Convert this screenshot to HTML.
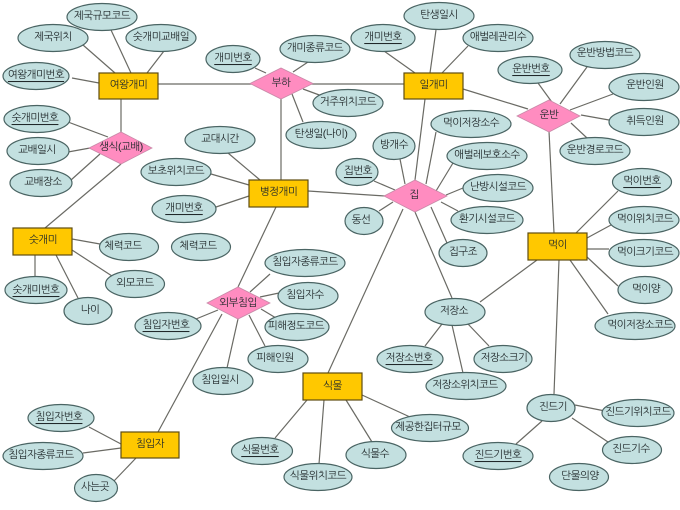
<!DOCTYPE html>
<html><head><meta charset="utf-8">
<style>
html,body{margin:0;padding:0;background:#fff;width:680px;height:510px;overflow:hidden}
svg{display:block;filter:blur(.3px)}
.l line{stroke:#6a6a64;stroke-width:1.2}
.a{fill:#c3e0e0;stroke:#4a6463;stroke-width:1.2}
.b{fill:#ffc800;stroke:#5f4c10;stroke-width:1.2}
.d{fill:#ff8cc0;stroke:#c98aa8;stroke-width:.8}
text{font-family:"Liberation Sans","NanumGothic","Noto Sans CJK KR",sans-serif;font-size:10.5px;letter-spacing:-.5px;fill:#20282a;text-anchor:middle;dominant-baseline:central}
.u{text-decoration:underline;text-decoration-thickness:1px;text-underline-offset:1px}
</style></head><body>
<svg width="680" height="510" viewBox="0 0 680 510" xmlns="http://www.w3.org/2000/svg">
<g class="l">
<line x1="111" y1="30" x2="131" y2="73"/><line x1="83" y1="45" x2="115" y2="73"/><line x1="164" y1="51" x2="147" y2="73"/><line x1="72" y1="78" x2="99" y2="83"/>
<line x1="158" y1="84" x2="404" y2="84"/><line x1="255" y1="68" x2="266" y2="73"/><line x1="308" y1="62" x2="293" y2="72"/><line x1="303" y1="89" x2="322" y2="96"/><line x1="292" y1="94" x2="303" y2="122"/>
<line x1="281" y1="99" x2="281" y2="180"/><line x1="121" y1="99" x2="121" y2="132"/><line x1="68" y1="122" x2="108" y2="137"/><line x1="68" y1="152" x2="90" y2="148"/><line x1="71" y1="180" x2="100" y2="154"/><line x1="121" y1="164" x2="45" y2="228"/>
<line x1="228" y1="153" x2="260" y2="180"/><line x1="211" y1="174" x2="249" y2="185"/><line x1="216" y1="207" x2="249" y2="196"/><line x1="308" y1="191" x2="385" y2="196"/><line x1="276" y1="207" x2="238" y2="287"/>
<line x1="72" y1="239" x2="100" y2="244"/><line x1="72" y1="250" x2="112" y2="276"/><line x1="35" y1="255" x2="35" y2="277"/><line x1="56" y1="255" x2="78" y2="298"/>
<line x1="270" y1="274" x2="250" y2="292"/><line x1="279" y1="293" x2="260" y2="297"/><line x1="261" y1="309" x2="276" y2="318"/><line x1="249" y1="315" x2="265" y2="346"/><line x1="238" y1="319" x2="227" y2="368"/><line x1="218" y1="310" x2="196" y2="319"/><line x1="222" y1="314" x2="158" y2="432"/>
<line x1="89" y1="427" x2="121" y2="444"/><line x1="83" y1="453" x2="121" y2="448"/><line x1="136" y1="458" x2="114" y2="481"/>
<line x1="425" y1="99" x2="415" y2="180"/><line x1="384" y1="51" x2="415" y2="73"/><line x1="436" y1="30" x2="430" y2="73"/><line x1="468" y1="46" x2="442" y2="73"/>
<line x1="463" y1="89" x2="528" y2="109"/><line x1="538" y1="83" x2="554" y2="105"/><line x1="587" y1="67" x2="560" y2="104"/><line x1="613" y1="94" x2="570" y2="110"/><line x1="581" y1="115" x2="609" y2="120"/><line x1="571" y1="123" x2="587" y2="138"/><line x1="549" y1="131" x2="554" y2="233"/>
<line x1="436" y1="132" x2="426" y2="184"/><line x1="400" y1="159" x2="405" y2="184"/><line x1="374" y1="181" x2="395" y2="190"/><line x1="453" y1="163" x2="436" y2="191"/><line x1="463" y1="188" x2="446" y2="195"/><line x1="458" y1="211" x2="441" y2="202"/><line x1="379" y1="211" x2="393" y2="202"/>
<line x1="431" y1="207" x2="447" y2="243"/><line x1="415" y1="212" x2="452" y2="298"/><line x1="403" y1="209" x2="328" y2="373"/>
<line x1="618" y1="191" x2="576" y2="233"/><line x1="611" y1="225" x2="587" y2="238"/><line x1="587" y1="249" x2="609" y2="249"/><line x1="587" y1="257" x2="618" y2="286"/><line x1="570" y1="260" x2="608" y2="314"/><line x1="537" y1="260" x2="480" y2="302"/><line x1="559" y1="260" x2="554" y2="394"/>
<line x1="442" y1="324" x2="425" y2="346"/><line x1="468" y1="324" x2="489" y2="346"/><line x1="452" y1="325" x2="463" y2="373"/>
<line x1="575" y1="405" x2="605" y2="411"/><line x1="572" y1="418" x2="608" y2="442"/><line x1="542" y1="421" x2="516" y2="444"/>
<line x1="362" y1="395" x2="410" y2="417"/><line x1="346" y1="400" x2="372" y2="442"/><line x1="324" y1="400" x2="319" y2="464"/><line x1="307" y1="400" x2="275" y2="438"/>
</g>

<rect class="b" x="99" y="73" width="59" height="26"/><text x="128.5" y="85">여왕개미</text>
<rect class="b" x="404" y="73" width="59" height="26"/><text x="433.5" y="85">일개미</text>
<rect class="b" x="249" y="180" width="59" height="27"/><text x="278.5" y="192">병정개미</text>
<rect class="b" x="13" y="228" width="59" height="27"/><text x="43" y="240">숫개미</text>
<rect class="b" x="528" y="233" width="59" height="27"/><text x="557.5" y="245">먹이</text>
<rect class="b" x="121" y="432" width="58" height="26"/><text x="150" y="444">침입자</text>
<rect class="b" x="303" y="373" width="59" height="27"/><text x="332.5" y="386">식물</text>

<polygon class="d" points="250,83.5 281,68 313,83.5 281,99"/><text x="281" y="83">부하</text>
<polygon class="d" points="89,148 121,132 152,148 121,164"/><text x="121" y="147">생식(교배)</text>
<polygon class="d" points="384,196 415,180 447,196 415,212"/><text x="414" y="195">집</text>
<polygon class="d" points="517,116 549,100 580,116 549,132"/><text x="549" y="115">운반</text>
<polygon class="d" points="207,303 238,287 270,303 238,319"/><text x="238" y="303">외부침입</text>

<ellipse class="a" cx="102" cy="17" rx="35" ry="13.5"/><text x="102" y="16">제국규모코드</text>
<ellipse class="a" cx="53" cy="38" rx="35" ry="13.5"/><text x="53" y="37">제국위치</text>
<ellipse class="a" cx="161" cy="38" rx="35" ry="13.5"/><text x="161" y="37">숫개미교배일</text>
<ellipse class="a" cx="36" cy="76" rx="33" ry="13.5"/><text x="36" y="75" class="u">여왕개미번호</text>
<ellipse class="a" cx="233" cy="59" rx="27" ry="13.5"/><text x="233" y="58" class="u">개미번호</text>
<ellipse class="a" cx="315" cy="49" rx="35" ry="13.5"/><text x="315" y="48">개미종류코드</text>
<ellipse class="a" cx="348" cy="103" rx="35" ry="13.5"/><text x="348" y="102">거주위치코드</text>
<ellipse class="a" cx="321" cy="135" rx="35" ry="13.5"/><text x="321" y="134">탄생일(나이)</text>
<ellipse class="a" cx="37" cy="119" rx="33" ry="13.5"/><text x="35" y="118" class="u">숫개미번호</text>
<ellipse class="a" cx="38" cy="151" rx="31" ry="13.5"/><text x="37" y="150">교배일시</text>
<ellipse class="a" cx="41" cy="183" rx="31" ry="13.5"/><text x="43" y="182">교배장소</text>
<ellipse class="a" cx="220" cy="140" rx="35" ry="13.5"/><text x="220" y="139">교대시간</text>
<ellipse class="a" cx="176" cy="172" rx="35" ry="13.5"/><text x="176" y="171">보초위치코드</text>
<ellipse class="a" cx="184" cy="209" rx="32" ry="13.5"/><text x="184" y="208" class="u">개미번호</text>
<ellipse class="a" cx="129" cy="247" rx="29.5" ry="13.5"/><text x="123" y="246">체력코드</text>
<ellipse class="a" cx="201" cy="247" rx="29.5" ry="13.5"/><text x="198" y="246">체력코드</text>
<ellipse class="a" cx="135" cy="284" rx="29.5" ry="13.5"/><text x="135" y="283">외모코드</text>
<ellipse class="a" cx="36" cy="290" rx="31" ry="13.5"/><text x="36" y="290" class="u">숫개미번호</text>
<ellipse class="a" cx="88" cy="311" rx="24" ry="13.5"/><text x="90" y="310">나이</text>
<ellipse class="a" cx="305" cy="263" rx="40" ry="13.5"/><text x="305" y="262">침입자종류코드</text>
<ellipse class="a" cx="308" cy="296" rx="30" ry="13.5"/><text x="305" y="295">침입자수</text>
<ellipse class="a" cx="168" cy="326" rx="33" ry="13.5"/><text x="166" y="325" class="u">침입자번호</text>
<ellipse class="a" cx="297" cy="327" rx="32" ry="13.5"/><text x="296" y="326">피해정도코드</text>
<ellipse class="a" cx="278" cy="359" rx="30" ry="13.5"/><text x="275" y="358">피해인원</text>
<ellipse class="a" cx="223" cy="381" rx="30" ry="13.5"/><text x="220" y="380">침입일시</text>
<ellipse class="a" cx="61" cy="418" rx="33" ry="13.5"/><text x="59" y="417" class="u">침입자번호</text>
<ellipse class="a" cx="43" cy="456" rx="40" ry="13.5"/><text x="41" y="455">침입자종류코드</text>
<ellipse class="a" cx="96" cy="488" rx="21.5" ry="13.5"/><text x="95" y="487">사는곳</text>
<ellipse class="a" cx="262" cy="451" rx="30.5" ry="13.5"/><text x="260" y="450" class="u">식물번호</text>
<ellipse class="a" cx="318" cy="477" rx="34" ry="13.5"/><text x="318" y="476">식물위치코드</text>
<ellipse class="a" cx="376" cy="455" rx="30" ry="13.5"/><text x="375" y="454">식물수</text>
<ellipse class="a" cx="430" cy="428" rx="38.5" ry="13.5"/><text x="428" y="427">제공한집터규모</text>
<ellipse class="a" cx="455" cy="312" rx="30" ry="13.5"/><text x="454" y="311">저장소</text>
<ellipse class="a" cx="410" cy="359" rx="33" ry="13.5"/><text x="409" y="358" class="u">저장소번호</text>
<ellipse class="a" cx="503" cy="359" rx="29" ry="13.5"/><text x="504" y="358">저장소크기</text>
<ellipse class="a" cx="466" cy="386" rx="40" ry="13.5"/><text x="465" y="385">저장소위치코드</text>
<ellipse class="a" cx="551" cy="408" rx="24" ry="13.5"/><text x="553" y="407">진드기</text>
<ellipse class="a" cx="638" cy="413" rx="36" ry="13.5"/><text x="638" y="412">진드기위치코드</text>
<ellipse class="a" cx="632" cy="450" rx="29.5" ry="13.5"/><text x="631" y="449">진드기수</text>
<ellipse class="a" cx="498" cy="456" rx="35" ry="13.5"/><text x="498" y="455" class="u">진드기번호</text>
<ellipse class="a" cx="579" cy="477" rx="29.5" ry="13.5"/><text x="580" y="476">단물의양</text>
<ellipse class="a" cx="645" cy="290" rx="27" ry="13.5"/><text x="646" y="289">먹이양</text>
<ellipse class="a" cx="635" cy="326" rx="40" ry="13.5"/><text x="640" y="325">먹이저장소코드</text>
<ellipse class="a" cx="642" cy="182" rx="29.5" ry="13.5"/><text x="642" y="181" class="u">먹이번호</text>
<ellipse class="a" cx="644" cy="220" rx="35" ry="13.5"/><text x="645" y="219">먹이위치코드</text>
<ellipse class="a" cx="644" cy="253" rx="35" ry="13.5"/><text x="645" y="252">먹이크기코드</text>
<ellipse class="a" cx="463" cy="253" rx="24" ry="13.5"/><text x="463" y="252">집구조</text>
<ellipse class="a" cx="487" cy="220" rx="36" ry="13.5"/><text x="487" y="219">환기시설코드</text>
<ellipse class="a" cx="498" cy="188" rx="35" ry="13.5"/><text x="498" y="187">난방시설코드</text>
<ellipse class="a" cx="487" cy="156" rx="40" ry="13.5"/><text x="487" y="155">애벌레보호소수</text>
<ellipse class="a" cx="471" cy="124" rx="40" ry="13.5"/><text x="471" y="123">먹이저장소수</text>
<ellipse class="a" cx="394" cy="146" rx="21" ry="13.5"/><text x="394" y="145">방개수</text>
<ellipse class="a" cx="357" cy="172" rx="21" ry="13.5"/><text x="358" y="171" class="u">집번호</text>
<ellipse class="a" cx="364" cy="221" rx="19" ry="13.5"/><text x="361" y="220">동선</text>
<ellipse class="a" cx="383" cy="38" rx="32" ry="13.5"/><text x="383" y="37" class="u">개미번호</text>
<ellipse class="a" cx="439" cy="16" rx="35" ry="13.5"/><text x="439" y="15">탄생일시</text>
<ellipse class="a" cx="498" cy="38" rx="35" ry="13.5"/><text x="498" y="37">애벌레관리수</text>
<ellipse class="a" cx="530" cy="70" rx="32" ry="13.5"/><text x="531" y="69" class="u">운반번호</text>
<ellipse class="a" cx="605" cy="55" rx="35" ry="13.5"/><text x="605" y="53">운반방법코드</text>
<ellipse class="a" cx="644" cy="87" rx="35" ry="13.5"/><text x="645" y="85">운반인원</text>
<ellipse class="a" cx="644" cy="122" rx="35" ry="13.5"/><text x="645" y="121">취득인원</text>
<ellipse class="a" cx="595" cy="151" rx="35" ry="13.5"/><text x="595" y="150">운반경로코드</text>
</svg>
</body></html>
